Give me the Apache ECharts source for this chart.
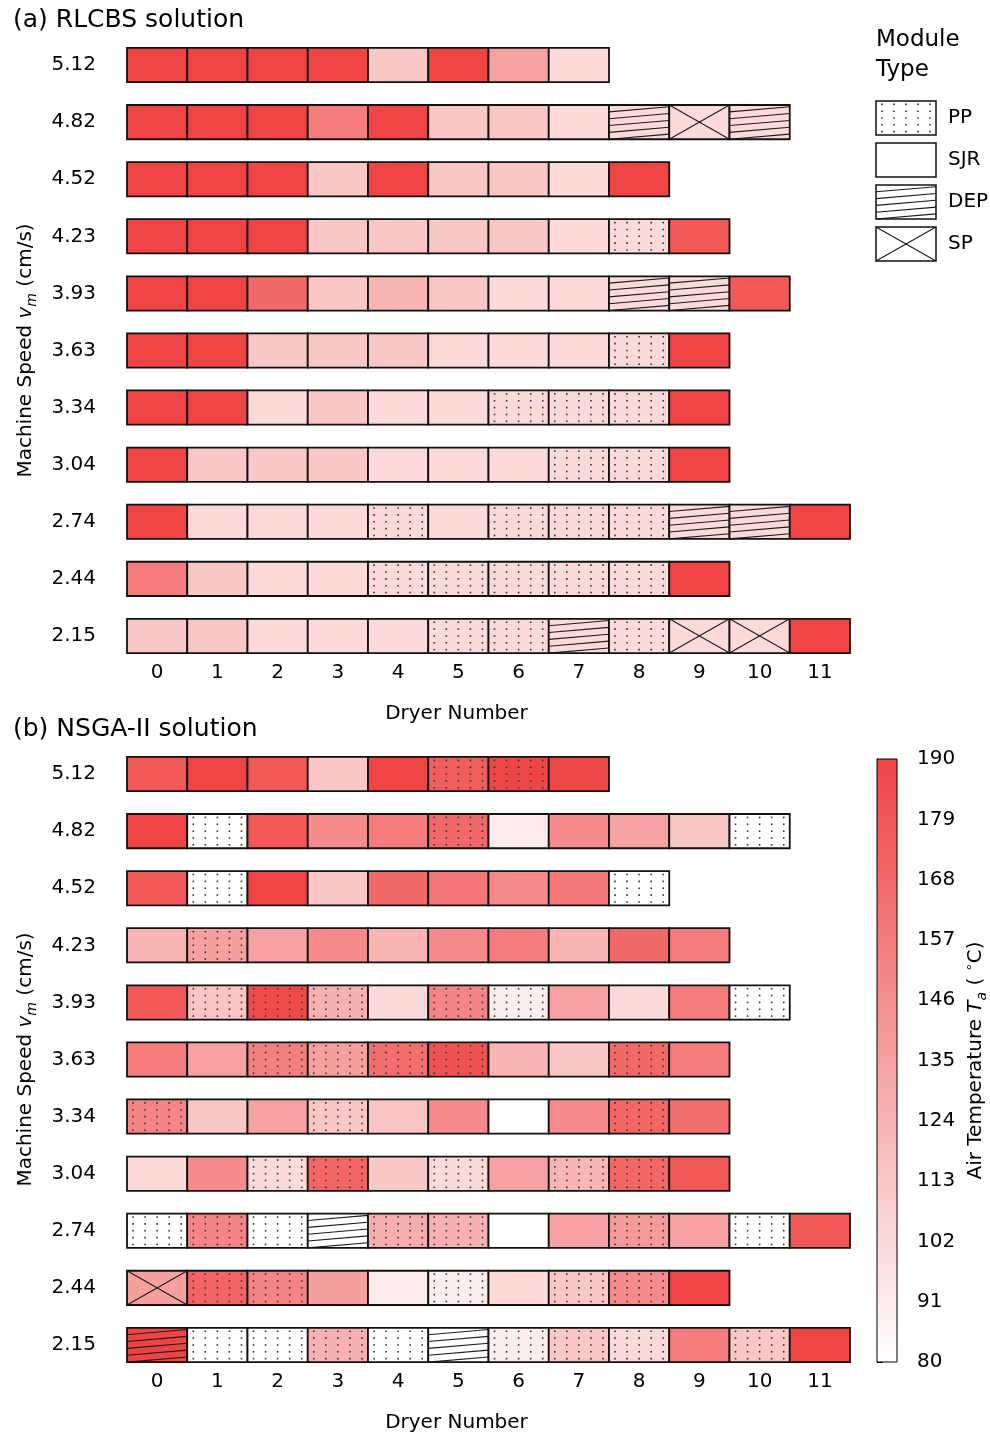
<!DOCTYPE html>
<html>
<head>
<meta charset="utf-8">
<script src="https://cdn.jsdelivr.net/npm/echarts@6/dist/echarts.min.js"></script>
<style>
  html, body { margin: 0; padding: 0; background: #fff; }
  #chart { width: 990px; height: 1437px; }
</style>
</head>
<body>
<div id="chart"></div>
<script>
// Machine speeds (cm/s), top row first, and dryer positions along the line
const speeds = ['5.12', '4.82', '4.52', '4.23', '3.93', '3.63', '3.34', '3.04', '2.74', '2.44', '2.15'];
const dryers = ['0', '1', '2', '3', '4', '5', '6', '7', '8', '9', '10', '11'];

// Air temperature scale (°C) shared by both panels
const tempMin = 80;
const tempMax = 190;
const tempStep = 11;

// Module type codes: P = PP, S = SJR, D = DEP, X = SP
const moduleTypes = ['PP', 'SJR', 'DEP', 'SP'];
const moduleKey = { P: 'PP', S: 'SJR', D: 'DEP', X: 'SP' };

// (a) RLCBS solution: air temperature per dryer, one row per speed
const rlcbsTemp = [
  [190, 190, 190, 190, 113, 190, 135, 102],
  [190, 190, 190, 157, 190, 113, 113, 102, 102, 102, 102],
  [190, 190, 190, 113, 190, 113, 113, 102, 190],
  [190, 190, 190, 113, 113, 113, 113, 102, 102, 178],
  [190, 190, 168, 113, 124, 113, 102, 102, 102, 102, 178],
  [190, 190, 113, 113, 113, 102, 102, 102, 102, 190],
  [190, 190, 102, 113, 102, 102, 102, 102, 102, 190],
  [190, 113, 113, 113, 102, 102, 102, 102, 102, 190],
  [190, 102, 102, 102, 102, 102, 102, 102, 102, 102, 102, 190],
  [157, 113, 102, 102, 102, 102, 102, 102, 102, 190],
  [113, 113, 102, 102, 102, 102, 102, 102, 102, 102, 102, 190]
];
const rlcbsModule = [
  'SSSSSSSS',
  'SSSSSSSSDXD',
  'SSSSSSSSS',
  'SSSSSSSSPS',
  'SSSSSSSSDDS',
  'SSSSSSSSPS',
  'SSSSSSPPPS',
  'SSSSSSSPPS',
  'SSSSPSPPPDDS',
  'SSSSPPPPPS',
  'SSSSSPPDPXXS'
];

// (b) NSGA-II solution
const nsgaTemp = [
  [178, 190, 178, 113, 190, 175, 188, 188],
  [190, 80, 178, 148, 157, 168, 91, 148, 135, 113, 80],
  [178, 80, 190, 113, 168, 160, 148, 158, 80],
  [124, 136, 135, 148, 124, 148, 157, 124, 168, 157],
  [178, 115, 186, 126, 102, 152, 91, 135, 102, 157, 80],
  [157, 135, 155, 136, 165, 182, 124, 113, 168, 157],
  [152, 113, 135, 113, 115, 148, 80, 148, 170, 165],
  [102, 148, 102, 170, 113, 102, 135, 124, 170, 178],
  [80, 152, 80, 80, 128, 126, 80, 135, 140, 135, 80, 178],
  [136, 172, 152, 136, 91, 91, 102, 113, 148, 190],
  [190, 80, 80, 126, 80, 80, 91, 113, 102, 157, 113, 190]
];
const nsgaModule = [
  'SSSSSPPS',
  'SPSSSPSSSSP',
  'SPSSSSSSP',
  'SPSSSSSSSS',
  'SPPPSPPSSSP',
  'SSPPPPSSPS',
  'PSSPSSSSPS',
  'SSPPSPSPPS',
  'PPPDPPSSPSPS',
  'XPPSSPSPPS',
  'DPPPPDPPPSPS'
];

const FONT = "'DejaVu Sans', sans-serif";
const LOW_RGB = [255, 255, 255];
const HIGH_RGB = [239, 68, 68];

// White-to-red colour map over the temperature range
function tempColor(t) {
  const f = Math.max(0, Math.min(1, (t - tempMin) / (tempMax - tempMin)));
  const c = LOW_RGB.map((lo, i) => Math.round(lo + (HIGH_RGB[i] - lo) * f));
  return 'rgb(' + c.join(',') + ')';
}

// Hatch overlays for each module type inside a box
function patternShapes(type, x, y, w, h) {
  const out = [];
  const ink = '#1c1c1c';
  if (type === 'PP') {
    for (let i = 0; i < 5; i++) {
      for (let j = 0; j < 5; j++) {
        out.push({
          type: 'rect',
          shape: { x: x + w * (i + 0.5) / 5 - 0.8, y: y + h * (j + 0.5) / 5 - 0.8, width: 1.6, height: 1.6 },
          style: { fill: '#333' }
        });
      }
    }
  } else if (type === 'DEP') {
    const rise = h * 0.15;
    const gap = h / 5;
    for (let k = 0; k <= 6; k++) {
      const yl = y + k * gap;
      let x1 = x, y1 = yl, x2 = x + w, y2 = yl - rise;
      if (y1 > y + h) { x1 = x + (yl - (y + h)) * w / rise; y1 = y + h; }
      if (y2 < y) { x2 = x + (yl - y) * w / rise; y2 = y; }
      if (x2 - x1 > 0.5) {
        out.push({ type: 'line', shape: { x1, y1, x2, y2 }, style: { stroke: ink, lineWidth: 1.1 } });
      }
    }
  } else if (type === 'SP') {
    out.push({ type: 'line', shape: { x1: x, y1: y, x2: x + w, y2: y + h }, style: { stroke: ink, lineWidth: 1.1 } });
    out.push({ type: 'line', shape: { x1: x, y1: y + h, x2: x + w, y2: y }, style: { stroke: ink, lineWidth: 1.1 } });
  }
  return out;
}

function buildCells(temps, modules) {
  const values = [];
  const types = [];
  temps.forEach((row, r) => {
    row.forEach((t, c) => {
      values.push([c, r, t]);
      types.push(moduleKey[modules[r][c]]);
    });
  });
  return { values, types };
}

function cellRenderer(types) {
  return function (params, api) {
    const center = api.coord([api.value(0), api.value(1)]);
    const band = api.size([1, 1]);
    const w = band[0];
    const h = band[1] * 0.6;
    const x = center[0] - w / 2;
    const y = center[1] - h / 2;
    const children = [
      { type: 'rect', shape: { x, y, width: w, height: h }, style: { fill: tempColor(api.value(2)) } }
    ].concat(patternShapes(types[params.dataIndex], x, y, w, h));
    children.push({
      type: 'rect', shape: { x, y, width: w, height: h },
      style: { fill: 'none', stroke: '#111', lineWidth: 1.8 }
    });
    return { type: 'group', children };
  };
}

const cellsA = buildCells(rlcbsTemp, rlcbsModule);
const cellsB = buildCells(nsgaTemp, nsgaModule);

const speedName = {
  text: 'Machine Speed {v|v}{m|m} (cm/s)',
  style: {
    fontSize: 20, color: '#000', fontFamily: FONT, lineHeight: 26,
    rich: {
      v: { fontSize: 20, fontStyle: 'italic', fontFamily: FONT, color: '#000', lineHeight: 26 },
      m: { fontSize: 14, fontStyle: 'italic', fontFamily: FONT, color: '#000', lineHeight: 14, verticalAlign: 'bottom' }
    }
  }
};

function xAxisFor(gridIndex) {
  return {
    type: 'category', gridIndex, data: dryers,
    axisLine: { show: false }, axisTick: { show: false },
    axisLabel: { fontSize: 20, color: '#000', fontFamily: FONT, margin: -2 },
    name: 'Dryer Number', nameLocation: 'middle', nameGap: 39,
    nameTextStyle: { fontSize: 20, color: '#000', fontFamily: FONT, padding: [0, 64, 0, 0] }
  };
}
function yAxisFor(gridIndex) {
  return {
    type: 'category', gridIndex, data: speeds, inverse: true,
    axisLine: { show: false }, axisTick: { show: false },
    axisLabel: { fontSize: 20, color: '#000', fontFamily: FONT, margin: 31 },
    name: speedName.text, nameLocation: 'middle', nameRotate: 90, nameGap: 88,
    nameTextStyle: speedName.style
  };
}

// Legend for module hatch types
const legendGraphics = [{
  type: 'text', x: 876, y: 25,
  style: { text: 'Module\nType', font: '23px ' + FONT, fill: '#000', lineHeight: 30 }
}];
moduleTypes.forEach((m, i) => {
  legendGraphics.push({
    type: 'group', x: 876, y: 101 + i * 42,
    children: [{ type: 'rect', shape: { x: 0, y: 0, width: 60, height: 34 }, style: { fill: '#fff' } }]
      .concat(patternShapes(m, 0, 0, 60, 34))
      .concat([
        { type: 'rect', shape: { x: 0, y: 0, width: 60, height: 34 }, style: { fill: 'none', stroke: '#111', lineWidth: 1.5 } },
        { type: 'text', style: { x: 72, y: 17, text: m, font: '20px ' + FONT, fill: '#000', align: 'left', verticalAlign: 'middle' } }
      ])
  });
});

const option = {
  animation: false,
  backgroundColor: '#fff',
  textStyle: { fontFamily: FONT },
  title: [
    { text: '(a) RLCBS solution', left: 8, top: 3, textStyle: { fontSize: 25, fontWeight: 'normal', color: '#000', fontFamily: FONT } },
    { text: '(b) NSGA-II solution', left: 8, top: 712, textStyle: { fontSize: 25, fontWeight: 'normal', color: '#000', fontFamily: FONT } }
  ],
  grid: [
    { left: 127, width: 723, top: 36.5, height: 628 },
    { left: 127, width: 723, top: 745.5, height: 628 },
    { left: 877, width: 30, top: 759, height: 603 }
  ],
  xAxis: [
    xAxisFor(0),
    xAxisFor(1),
    { type: 'value', gridIndex: 2, min: 0, max: 1, show: false }
  ],
  yAxis: [
    yAxisFor(0),
    yAxisFor(1),
    {
      type: 'value', gridIndex: 2, position: 'right',
      min: tempMin, max: tempMax, interval: tempStep,
      axisLine: { show: true, lineStyle: { color: '#000', width: 1 } },
      axisTick: { show: true, length: 6, lineStyle: { color: '#000', width: 1 } },
      splitLine: { show: false },
      axisLabel: { fontSize: 20, color: '#000', fontFamily: FONT, margin: 20 },
      name: 'Air Temperature {t|T}{a|a} ( {d|∘}C)',
      nameLocation: 'middle', nameRotate: 90, nameGap: 66,
      nameTextStyle: {
        fontSize: 20, color: '#000', fontFamily: FONT, lineHeight: 26,
        rich: {
          t: { fontSize: 20, fontStyle: 'italic', fontFamily: FONT, color: '#000', lineHeight: 26 },
          a: { fontSize: 14, fontStyle: 'italic', fontFamily: FONT, color: '#000', lineHeight: 14, verticalAlign: 'bottom' },
          d: { fontSize: 13, fontFamily: FONT, color: '#000', lineHeight: 13, verticalAlign: 'top' }
        }
      }
    }
  ],
  series: [
    {
      type: 'custom', xAxisIndex: 0, yAxisIndex: 0, silent: true,
      encode: { x: 0, y: 1 }, data: cellsA.values, renderItem: cellRenderer(cellsA.types)
    },
    {
      type: 'custom', xAxisIndex: 1, yAxisIndex: 1, silent: true,
      encode: { x: 0, y: 1 }, data: cellsB.values, renderItem: cellRenderer(cellsB.types)
    },
    {
      // colour bar spanning the temperature axis
      type: 'custom', xAxisIndex: 2, yAxisIndex: 2, silent: true,
      data: [[0, tempMin]],
      renderItem: function (params, api) {
        const top = api.coord([0, tempMax]);
        const bottom = api.coord([1, tempMin]);
        const stops = [];
        for (let t = tempMin; t <= tempMax; t += tempStep) {
          stops.push({ offset: 1 - (t - tempMin) / (tempMax - tempMin), color: tempColor(t) });
        }
        stops.reverse();
        return {
          type: 'rect',
          shape: { x: top[0], y: top[1], width: bottom[0] - top[0], height: bottom[1] - top[1] },
          style: {
            fill: new echarts.graphic.LinearGradient(0, 0, 0, 1, stops),
            stroke: '#000', lineWidth: 1
          }
        };
      }
    }
  ],
  graphic: legendGraphics
};

const chart = echarts.init(document.getElementById('chart'), null, { renderer: 'canvas' });
chart.setOption(option);
</script>
</body>
</html>
